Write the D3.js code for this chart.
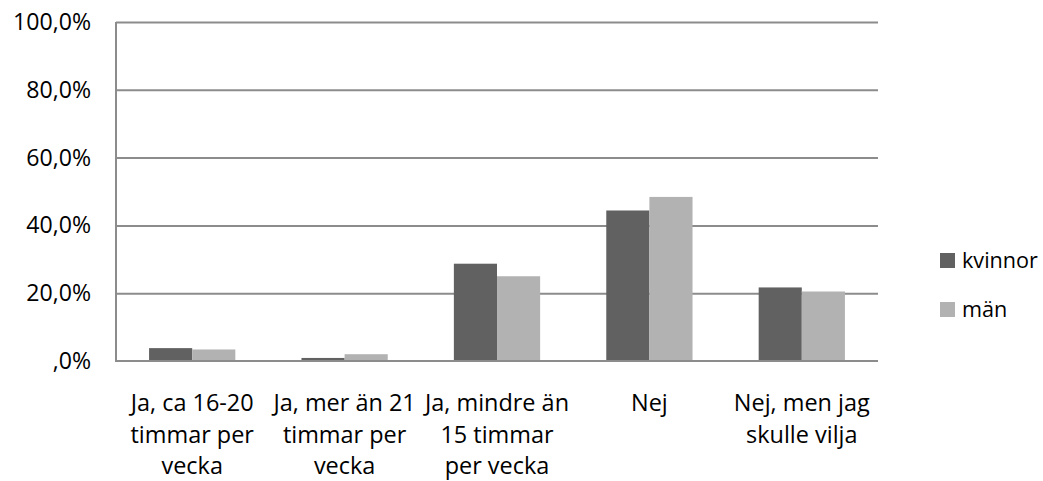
<!DOCTYPE html>
<html>
<head>
<meta charset="utf-8">
<script src="https://cdn.jsdelivr.net/npm/d3@7"></script>
<style>
  html, body { margin: 0; padding: 0; background: #ffffff; }
  svg { display: block; }
  text { font-family: "Open Sans", "Noto Sans", sans-serif; fill: #000; }
</style>
</head>
<body>
<svg id="chart" width="1043" height="481"></svg>
<script>
// ---- data ----
const categories = [
  ["Ja, ca 16-20", "timmar per", "vecka"],
  ["Ja, mer än 21", "timmar per", "vecka"],
  ["Ja, mindre än", "15 timmar", "per vecka"],
  ["Nej"],
  ["Nej, men jag", "skulle vilja"]
];
const seriesNames = ["kvinnor", "män"];
const kvinnor = [0.038, 0.009, 0.287, 0.444, 0.217];
const man = [0.034, 0.020, 0.250, 0.484, 0.205];
const yTicks = [0, 0.2, 0.4, 0.6, 0.8, 1.0];
const yTickLabels = [",0%", "20,0%", "40,0%", "60,0%", "80,0%", "100,0%"];
const colors = ["#616161", "#b2b2b2"];

const svg = d3.select("#chart");
const plot = { left: 116, right: 878, top: 22, bottom: 361 };

function fitSize(str, target) {
  const probe = svg.append("text").attr("font-size", 100).text(str);
  const w = probe.node().getComputedTextLength();
  probe.remove();
  return 100 * target / w;
}
const fs = Math.min(25, fitSize("Ja, ca 16-20", 123));
const fsY = Math.min(25, fitSize("100,0%", 78));
const fsLeg = Math.min(25, fitSize("kvinnor", 76));

const y = d3.scaleLinear().domain([0, 1]).range([plot.bottom, plot.top]);
const x0 = d3.scaleBand().domain(d3.range(categories.length)).range([plot.left, plot.right]).padding(0);
const groupW = x0.bandwidth() * 0.566;
const x1 = d3.scaleBand().domain(seriesNames).range([0, groupW]).padding(0);

// gridlines
svg.append("g")
  .attr("transform", `translate(${plot.left},0)`)
  .call(d3.axisLeft(y).tickValues(yTicks.slice(1)).tickSize(-(plot.right - plot.left)).tickFormat(""))
  .call(g => g.select(".domain").remove())
  .call(g => g.selectAll("line").attr("stroke", "#8c8c8c").attr("stroke-width", 2));

// y labels
svg.append("g")
  .attr("transform", `translate(${plot.left},0)`)
  .call(d3.axisLeft(y).tickValues(yTicks).tickSize(0).tickPadding(25).tickFormat((d, i) => yTickLabels[i]))
  .call(g => g.select(".domain").remove())
  .call(g => g.selectAll("text").attr("font-size", fsY).attr("font-family", '"Open Sans", sans-serif').attr("fill", "#000"));

// bars
const series = [kvinnor, man];
series.forEach((vals, si) => {
  svg.append("g").selectAll("rect")
    .data(vals)
    .join("rect")
    .attr("x", (d, i) => x0(i) + (x0.bandwidth() - groupW) / 2 + x1(seriesNames[si]))
    .attr("width", x1.bandwidth())
    .attr("y", d => y(d))
    .attr("height", d => y(0) - y(d))
    .attr("fill", colors[si]);
});

// axes lines
svg.append("line")
  .attr("x1", plot.left).attr("x2", plot.left)
  .attr("y1", y(1)).attr("y2", y(0))
  .attr("stroke", "#8c8c8c").attr("stroke-width", 2);
svg.append("line")
  .attr("x1", plot.left - 1).attr("x2", plot.right)
  .attr("y1", y(0)).attr("y2", y(0))
  .attr("stroke", "#8c8c8c").attr("stroke-width", 2);

// x labels
const xl = svg.append("g");
categories.forEach((lines, i) => {
  const cx = x0(i) + x0.bandwidth() / 2;
  const t = xl.append("text")
    .attr("text-anchor", "middle")
    .attr("font-size", fs)
    .attr("x", cx)
    .attr("y", 411);
  lines.forEach((ln, j) => {
    t.append("tspan").attr("x", cx).attr("dy", j === 0 ? 0 : 31.5).text(ln);
  });
});

// legend
const legend = svg.append("g");
seriesNames.forEach((name, i) => {
  const gy = 253 + i * 49;
  legend.append("rect").attr("x", 940).attr("y", gy).attr("width", 15).attr("height", 15).attr("fill", colors[i]);
  legend.append("text").attr("x", 962).attr("y", gy + 15).attr("font-size", fsLeg).text(name);
});
</script>
</body>
</html>
